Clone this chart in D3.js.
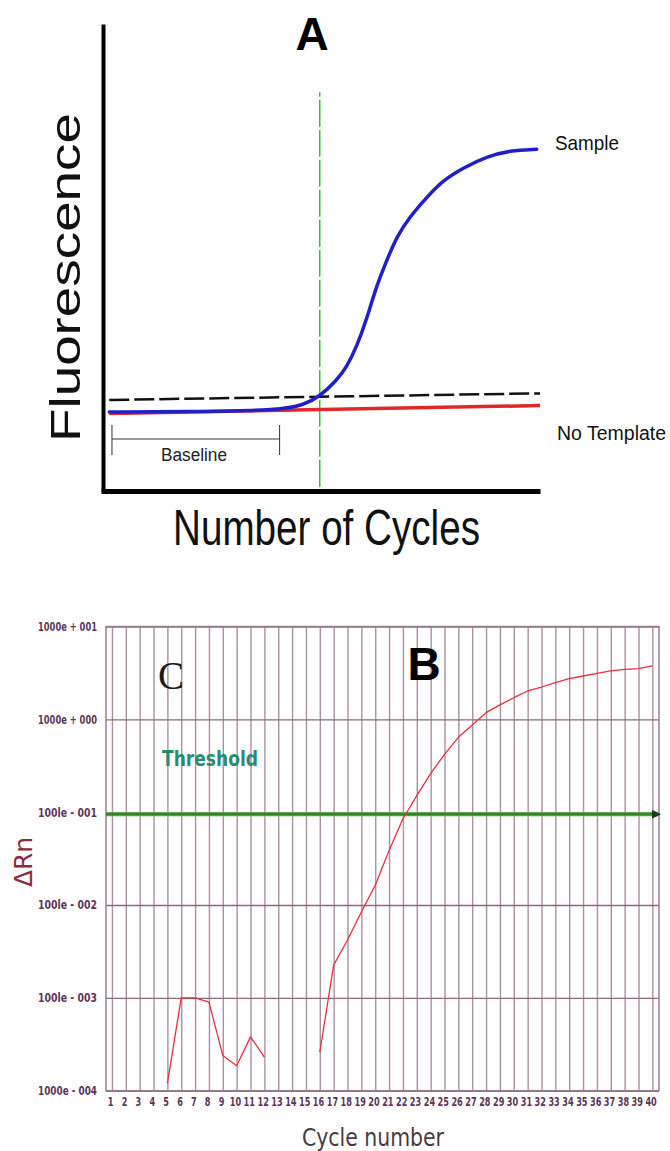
<!DOCTYPE html>
<html>
<head>
<meta charset="utf-8">
<script src="https://cdnjs.cloudflare.com/ajax/libs/d3/7.8.5/d3.min.js"></script>
<style>
body { margin: 0; background: #fff; }
svg { display: block; }
</style>
</head>
<body>
<svg id="chart"></svg>
<script>
// ---- panel A : schematic amplification plot (cycles vs arbitrary fluorescence) ----
var sampleCycles = [0.3, 8.7, 16.0, 18.2, 19.7, 21.3, 22.2, 23.1, 24.0, 24.9, 25.9, 26.8, 28.0, 29.6, 31.1, 33.0, 35.1, 37.2, 39.7];
var sampleFluor  = [16.9, 17.0, 17.3, 18.4, 20.2, 23.8, 26.6, 30.9, 36.6, 43.7, 49.5, 54.5, 58.7, 63.0, 66.6, 69.3, 71.6, 72.9, 73.2];
var ntcCycles = [0.3, 40];
var ntcFluor  = [16.6, 18.3];
var thresholdCyclesA = [0.3, 40];
var thresholdFluorA  = [19.5, 20.9];
var ctCycle = 19.7;
var ctFluorRange = [0.9, 85.4];
var baselineCycles = [0.55, 16.0];

// ---- panel B : real run, delta Rn on log scale ----
var cycles = d3.range(1, 41);
var earlyCycles = [5, 6, 7, 8, 9, 10, 11, 12];
var earlyDrn = [1.2e-4, 1.0e-3, 1.0e-3, 9.0e-4, 2.4e-4, 1.86e-4, 3.8e-4, 2.3e-4];
var lateCycles = d3.range(16, 41);
var lateDrn = [2.6e-4, 2.25e-3, 4.2e-3, 8.4e-3, 1.63e-2, 3.86e-2, 8.5e-2, 0.151, 0.26, 0.42,
               0.64, 0.87, 1.18, 1.43, 1.71, 2.02, 2.23, 2.49, 2.74, 2.93,
               3.13, 3.32, 3.46, 3.52, 3.76];
var decades = [10, 1, 0.1, 0.01, 0.001, 0.0001];
var decadeLabels = ["1000e + 001", "1000e + 000", "100le - 001", "100le - 002", "100le - 003", "1000e - 004"];
var thresholdB = 0.095;

var svg = d3.select('#chart')
  .attr('width', 670)
  .attr('height', 1151);

svg.append('defs').append('marker')
  .attr('id', 'arrow')
  .attr('viewBox', '0 0 10 10')
  .attr('refX', 8).attr('refY', 5)
  .attr('markerWidth', 3).attr('markerHeight', 3)
  .attr('orient', 'auto')
  .append('path')
  .attr('d', 'M0,0L10,5L0,10z')
  .attr('fill', '#1a3a1a');

drawPanelA();
drawPanelB();

function zip(xs, ys) {
  return xs.map(function(d, i) { return { x: d, y: ys[i] }; });
}

function drawPanelA() {
  var x = d3.scaleLinear().domain([0, 40]).range([106, 540]);
  var y = d3.scaleLinear().domain([0, 100]).range([491, 24]);
  var g = svg.append('g');

  var line = d3.line()
    .x(function(d) { return x(d.x); })
    .y(function(d) { return y(d.y); });

  // axes (bare lines, no ticks)
  g.append('g')
    .attr('transform', 'translate(103,0)')
    .call(d3.axisLeft(y).tickValues([]).tickSizeOuter(0))
    .select('.domain')
    .attr('stroke', '#000').attr('stroke-width', 4);
  g.append('g')
    .attr('transform', 'translate(0,' + y(0) + ')')
    .call(d3.axisBottom(x.copy().range([101, 540])).tickValues([]).tickSizeOuter(0))
    .select('.domain')
    .attr('stroke', '#000').attr('stroke-width', 5);

  // Ct marker (green dashed)
  g.append('line')
    .attr('x1', x(ctCycle)).attr('x2', x(ctCycle))
    .attr('y1', y(ctFluorRange[0])).attr('y2', y(ctFluorRange[1]))
    .attr('stroke', '#2fc42f').attr('stroke-width', 1.5)
    .attr('stroke-dasharray', '27,3');

  // threshold (black dashed)
  g.append('path')
    .datum(zip(thresholdCyclesA, thresholdFluorA))
    .attr('fill', 'none')
    .attr('stroke', '#111').attr('stroke-width', 2.5)
    .attr('stroke-dasharray', '20,5')
    .attr('d', line);

  // no template (red)
  g.append('path')
    .datum(zip(ntcCycles, ntcFluor))
    .attr('fill', 'none')
    .attr('stroke', '#e02828').attr('stroke-width', 3.5)
    .attr('d', line);

  // sample (blue)
  g.append('path')
    .datum(zip(sampleCycles, sampleFluor))
    .attr('fill', 'none')
    .attr('stroke', '#2020c8').attr('stroke-width', 3.5)
    .attr('stroke-linecap', 'round')
    .attr('d', line.curve(d3.curveBasis));

  // baseline bracket
  var by = 439;
  g.append('line')
    .attr('x1', x(baselineCycles[0])).attr('x2', x(baselineCycles[1]))
    .attr('y1', by).attr('y2', by)
    .attr('stroke', '#333').attr('stroke-width', 1);
  baselineCycles.forEach(function(c) {
    g.append('line')
      .attr('x1', x(c)).attr('x2', x(c))
      .attr('y1', by - 14).attr('y2', by + 16)
      .attr('stroke', '#333').attr('stroke-width', 1);
  });
  g.append('text')
    .attr('x', 161).attr('y', 461)
    .attr('font-family', 'Liberation Sans, Arial, sans-serif')
    .attr('font-size', 18).attr('fill', '#222')
    .attr('textLength', 66).attr('lengthAdjust', 'spacingAndGlyphs')
    .text('Baseline');

  g.append('text')
    .attr('x', 555).attr('y', 150)
    .attr('font-family', 'Liberation Sans, Arial, sans-serif')
    .attr('font-size', 21).attr('fill', '#111')
    .attr('textLength', 64).attr('lengthAdjust', 'spacingAndGlyphs')
    .text('Sample');
  g.append('text')
    .attr('x', 557).attr('y', 440)
    .attr('font-family', 'Liberation Sans, Arial, sans-serif')
    .attr('font-size', 19.5).attr('fill', '#111')
    .text('No Template');

  g.append('text')
    .attr('transform', 'translate(80,442) rotate(-90)')
    .attr('font-family', 'Liberation Sans, Arial, sans-serif')
    .attr('font-size', 43).attr('fill', '#111')
    .attr('textLength', 329).attr('lengthAdjust', 'spacingAndGlyphs')
    .text('Fluorescence');

  g.append('text')
    .attr('x', 173).attr('y', 545)
    .attr('font-family', 'Liberation Sans, Arial, sans-serif')
    .attr('font-size', 50).attr('fill', '#111')
    .attr('textLength', 307).attr('lengthAdjust', 'spacingAndGlyphs')
    .text('Number of Cycles');

  g.append('text')
    .attr('x', 312).attr('y', 50)
    .attr('text-anchor', 'middle')
    .attr('font-family', 'Liberation Sans, Arial, sans-serif')
    .attr('font-weight', 'bold')
    .attr('font-size', 46).attr('fill', '#000')
    .text('A');
}

function drawPanelB() {
  var left = 106, right = 659, top = 626.5, bottom = 1090.7;
  var x = d3.scaleLinear().domain([0.57, 40.48]).range([left, right]);
  var y = d3.scaleLog().domain([1e-4, 10]).range([bottom, top]);
  var gridColor = '#9a7f8e';
  var labelColor = '#5e3458';
  var g = svg.append('g');

  // vertical grid + cycle labels
  var xa = g.append('g')
    .attr('transform', 'translate(0,' + bottom + ')')
    .call(d3.axisBottom(x).tickValues(cycles).tickSize(-(bottom - top)).tickSizeOuter(0).tickPadding(6));
  xa.select('.domain').remove();
  xa.selectAll('.tick line').attr('stroke', gridColor).attr('stroke-width', 1.4).attr('stroke-opacity', 0.85);
  xa.selectAll('.tick text')
    .attr('dx', -2.5)
    .attr('transform', 'scale(0.7,1)')
    .attr('font-family', 'DejaVu Sans Condensed, DejaVu Sans, sans-serif')
    .attr('font-weight', 'bold')
    .attr('font-size', 13)
    .attr('fill', labelColor);

  // horizontal grid + decade labels
  var ya = g.append('g')
    .attr('transform', 'translate(' + left + ',0)')
    .call(d3.axisLeft(y).tickValues(decades).tickSize(-(right - left)).tickSizeOuter(0).tickPadding(9)
      .tickFormat(function(d, i) { return decadeLabels[i]; }));
  ya.select('.domain').remove();
  ya.selectAll('.tick line').attr('stroke', '#8a6a7c').attr('stroke-width', 1.4);
  ya.selectAll('.tick text')
    .attr('font-family', 'DejaVu Sans Condensed, DejaVu Sans, sans-serif')
    .attr('font-weight', 'bold')
    .attr('font-size', 12)
    .attr('fill', labelColor)
    .attr('textLength', 59).attr('lengthAdjust', 'spacingAndGlyphs');

  // frame
  g.append('rect')
    .attr('x', left).attr('y', top)
    .attr('width', right - left).attr('height', bottom - top)
    .attr('fill', 'none').attr('stroke', gridColor).attr('stroke-width', 1.5);

  // threshold
  g.append('line')
    .attr('x1', left).attr('x2', right)
    .attr('y1', y(thresholdB)).attr('y2', y(thresholdB))
    .attr('stroke', '#8fcf7f').attr('stroke-width', 5).attr('stroke-opacity', 0.6);
  g.append('line')
    .attr('x1', left).attr('x2', right)
    .attr('y1', y(thresholdB)).attr('y2', y(thresholdB))
    .attr('stroke', '#2f8a22').attr('stroke-width', 3)
    .attr('marker-end', 'url(#arrow)');

  var line = d3.line()
    .x(function(d) { return x(d.x); })
    .y(function(d) { return y(d.y); });

  [zip(earlyCycles, earlyDrn), zip(lateCycles, lateDrn)].forEach(function(seg) {
    g.append('path')
      .datum(seg)
      .attr('fill', 'none')
      .attr('stroke', '#e8303c').attr('stroke-width', 1.3)
      .attr('stroke-linejoin', 'round')
      .attr('d', line);
  });

  g.append('text')
    .attr('x', 158).attr('y', 689)
    .attr('font-family', 'Liberation Serif, serif')
    .attr('font-size', 39).attr('fill', '#1a1a1a')
    .text('C');

  g.append('text')
    .attr('x', 162).attr('y', 766)
    .attr('font-family', 'DejaVu Sans Condensed, DejaVu Sans, sans-serif')
    .attr('font-weight', 'bold')
    .attr('font-size', 22).attr('fill', '#2a8a76')
    .attr('textLength', 96).attr('lengthAdjust', 'spacingAndGlyphs')
    .text('Threshold');

  g.append('text')
    .attr('x', 424).attr('y', 680)
    .attr('text-anchor', 'middle')
    .attr('font-family', 'Liberation Sans, Arial, sans-serif')
    .attr('font-weight', 'bold')
    .attr('font-size', 46).attr('fill', '#000')
    .text('B');

  g.append('text')
    .attr('transform', 'translate(32,862) rotate(-90)')
    .attr('text-anchor', 'middle')
    .attr('font-family', 'DejaVu Sans Condensed, DejaVu Sans, sans-serif')
    .attr('font-size', 25).attr('fill', '#8a2a3c')
    .attr('textLength', 50).attr('lengthAdjust', 'spacingAndGlyphs')
    .text('\u0394Rn');

  g.append('text')
    .attr('x', 373).attr('y', 1146)
    .attr('text-anchor', 'middle')
    .attr('font-family', 'DejaVu Sans Condensed, DejaVu Sans, sans-serif')
    .attr('font-size', 25).attr('fill', '#4a3a3e')
    .attr('textLength', 142).attr('lengthAdjust', 'spacingAndGlyphs')
    .text('Cycle number');
}
</script>
</body>
</html>
